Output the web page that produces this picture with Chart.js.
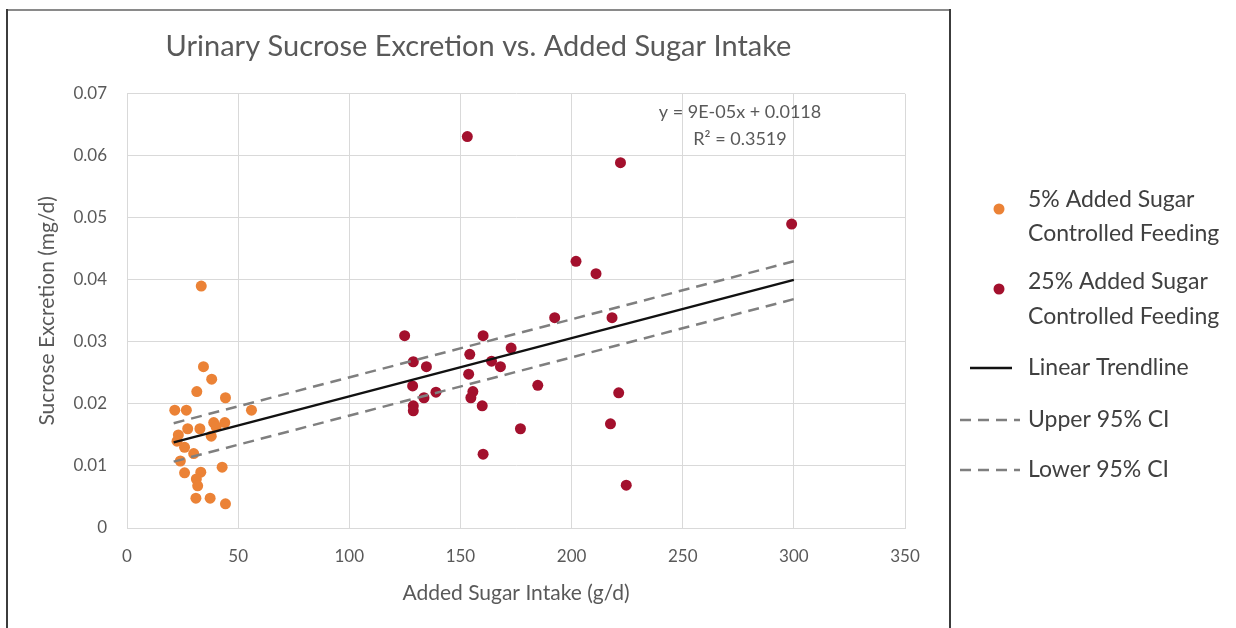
<!DOCTYPE html>
<html>
<head>
<meta charset="utf-8">
<script src="https://cdn.jsdelivr.net/npm/chart.js@4.4.1/dist/chart.umd.min.js"></script>
<style>
  html, body { margin: 0; padding: 0; background: #fff; }
  #wrap { width: 1236px; height: 628px; position: relative; }
</style>
</head>
<body>
<div id="wrap"><canvas id="chart" width="1236" height="628"></canvas></div>
<script>
// -------------------------------
//  DATA
// -------------------------------
const lowSugarX = [33.4, 34.4, 38.1, 31.4, 44.3, 21.5, 26.7, 56.0, 39.0, 44.0, 27.3, 32.8, 40.1, 23.1,
                   37.9, 25.9, 30.0, 24.0, 25.9, 33.2, 42.8, 31.2, 31.8, 31.0, 37.4, 44.3, 22.5];
const lowSugarY = [0.039, 0.026, 0.024, 0.022, 0.021, 0.019, 0.019, 0.019, 0.017, 0.017, 0.016, 0.016, 0.0163, 0.015,
                   0.0148, 0.013, 0.012, 0.0108, 0.0089, 0.009, 0.0098, 0.0079, 0.0068, 0.0048, 0.0048, 0.0039, 0.014];

const highSugarX = [124.9, 128.8, 134.7, 128.5, 139.0, 133.6, 128.8, 128.8, 160.2, 154.2, 153.7, 155.6, 154.7, 159.8,
                    164.0, 168.0, 172.8, 192.4, 184.8, 177.0, 160.2, 153.1, 202.0, 211.0, 222.0, 299.0, 218.2, 221.2,
                    217.5, 224.6];
const highSugarY = [0.031, 0.0268, 0.026, 0.0229, 0.0219, 0.021, 0.0197, 0.0189, 0.031, 0.028, 0.0248, 0.022, 0.021, 0.0197,
                    0.0269, 0.026, 0.029, 0.0339, 0.023, 0.016, 0.0119, 0.0631, 0.043, 0.041, 0.0589, 0.049, 0.0339, 0.0218,
                    0.0168, 0.0069];

const trendX = [21, 300];
const trendY = [0.0138, 0.0400];
const upperCI = [0.0169, 0.0430];
const lowerCI = [0.0107, 0.0369];

const legendLabels = [
    ['5% Added Sugar', 'Controlled Feeding'],
    ['25% Added Sugar', 'Controlled Feeding'],
    ['Linear Trendline'],
    ['Upper 95% CI'],
    ['Lower 95% CI']
];

const COLORS = {
    low: '#EB8236',
    high: '#A3102D',
    trend: '#111111',
    ci: '#7f7f7f',
    text: '#595959',
    grid: '#d9d9d9'
};

const FONT = "Lato, 'Open Sans', sans-serif";
const toPoints = (xs, ys) => xs.map((x, i) => ({ x: x, y: ys[i] }));

// -------------------------------
//  PLUGINS: frame, annotation, legend
// -------------------------------
const framePlugin = {
    id: 'frame',
    afterDraw(chart) {
        const ctx = chart.ctx;
        ctx.save();
        ctx.lineWidth = 2;
        ctx.strokeStyle = '#8a8a8a';
        ctx.beginPath();
        ctx.moveTo(6, 10); ctx.lineTo(951, 10);
        ctx.stroke();
        ctx.strokeStyle = '#3c3c3c';
        ctx.beginPath();
        ctx.moveTo(7, 9); ctx.lineTo(7, 628);
        ctx.moveTo(950, 9); ctx.lineTo(950, 628);
        ctx.stroke();

        // regression equation
        ctx.fillStyle = COLORS.text;
        ctx.font = '18px ' + FONT;
        ctx.textAlign = 'center';
        ctx.textBaseline = 'middle';
        ctx.fillText('y = 9E-05x + 0.0118', 740, 112);
        ctx.fillText('R² = 0.3519', 740, 139);
        ctx.restore();
    }
};

const legendPlugin = {
    id: 'sideLegend',
    afterDraw(chart) {
        const ctx = chart.ctx;
        const ds = chart.data.datasets;
        const textX = 1028;
        const rows = [
            { y: 209, lines: [200, 234] },
            { y: 289, lines: [282, 317] },
            { y: 368, lines: [368] },
            { y: 420, lines: [420] },
            { y: 470, lines: [470] }
        ];
        ctx.save();
        ctx.font = '23px ' + FONT;
        ctx.textAlign = 'left';
        ctx.textBaseline = 'middle';
        rows.forEach((r, i) => {
            const d = ds.find(x => x.legendIndex === i);
            if (d.type === 'scatter') {
                ctx.fillStyle = d.backgroundColor;
                ctx.beginPath();
                ctx.arc(999, r.y, 5.5, 0, Math.PI * 2);
                ctx.fill();
            } else {
                ctx.strokeStyle = d.borderColor;
                ctx.lineWidth = d.borderWidth;
                ctx.setLineDash(d.borderDash || []);
                ctx.beginPath();
                if (d.borderDash) { ctx.moveTo(960, r.y); ctx.lineTo(1020, r.y); }
                else { ctx.moveTo(970, r.y); ctx.lineTo(1012, r.y); }
                ctx.stroke();
                ctx.setLineDash([]);
            }
            ctx.fillStyle = '#404040';
            legendLabels[i].forEach((t, j) => ctx.fillText(t, textX, r.lines[j]));
        });
        ctx.restore();
    }
};

// -------------------------------
//  CHART
// -------------------------------
const ctx = document.getElementById('chart').getContext('2d');

new Chart(ctx, {
    type: 'scatter',
    data: {
        datasets: [
            {
                label: 'Linear Trendline',
                legendIndex: 2,
                type: 'line',
                data: toPoints(trendX, trendY),
                borderColor: COLORS.trend,
                borderWidth: 2.5,
                pointRadius: 0,
                order: 0
            },
            {
                label: 'Upper 95% CI',
                legendIndex: 3,
                type: 'line',
                data: toPoints(trendX, upperCI),
                borderColor: COLORS.ci,
                borderWidth: 2.5,
                borderDash: [11, 7],
                pointRadius: 0,
                order: 0
            },
            {
                label: 'Lower 95% CI',
                legendIndex: 4,
                type: 'line',
                data: toPoints(trendX, lowerCI),
                borderColor: COLORS.ci,
                borderWidth: 2.5,
                borderDash: [11, 7],
                pointRadius: 0,
                order: 0
            },
            {
                label: '5% Added Sugar Controlled Feeding',
                legendIndex: 0,
                type: 'scatter',
                data: toPoints(lowSugarX, lowSugarY),
                backgroundColor: COLORS.low,
                borderWidth: 0,
                pointRadius: 5.5,
                order: 1
            },
            {
                label: '25% Added Sugar Controlled Feeding',
                legendIndex: 1,
                type: 'scatter',
                data: toPoints(highSugarX, highSugarY),
                backgroundColor: COLORS.high,
                borderWidth: 0,
                pointRadius: 5.5,
                order: 1
            }
        ]
    },
    options: {
        responsive: false,
        animation: false,
        layout: { padding: { left: 7, right: 286, top: 9, bottom: 0 } },
        plugins: {
            legend: { display: false },
            tooltip: { enabled: false },
            title: {
                display: true,
                text: 'Urinary Sucrose Excretion vs. Added Sugar Intake',
                color: COLORS.text,
                font: { family: FONT, size: 29, weight: 'normal' },
                padding: { top: 20, bottom: 30 }
            }
        },
        scales: {
            x: {
                type: 'linear',
                min: 0,
                max: 350,
                ticks: {
                    stepSize: 50,
                    color: COLORS.text,
                    font: { family: FONT, size: 17 },
                    padding: 18
                },
                grid: { color: COLORS.grid, drawTicks: false },
                border: { color: COLORS.grid },
                title: {
                    display: true,
                    text: 'Added Sugar Intake (g/d)',
                    color: COLORS.text,
                    font: { family: FONT, size: 21 },
                    padding: { top: 0, bottom: 22 }
                },
                afterFit: s => { s.height = 100; }
            },
            y: {
                min: 0,
                max: 0.07,
                ticks: {
                    stepSize: 0.01,
                    color: COLORS.text,
                    font: { family: FONT, size: 17 },
                    padding: 20,
                    callback: v => v === 0 ? '0' : v.toFixed(2)
                },
                grid: { color: COLORS.grid, drawTicks: false },
                border: { color: COLORS.grid },
                title: {
                    display: true,
                    text: 'Sucrose Excretion (mg/d)',
                    color: COLORS.text,
                    font: { family: FONT, size: 21 },
                    padding: { top: 28, bottom: 0 }
                },
                afterFit: s => { s.width = 120; }
            },
            spacer: {
                type: 'linear',
                position: 'right',
                display: true,
                ticks: { display: false },
                grid: { display: false },
                border: { display: false },
                afterFit: s => { s.width = 45; }
            }
        }
    },
    plugins: [framePlugin, legendPlugin]
});
</script>
</body>
</html>
